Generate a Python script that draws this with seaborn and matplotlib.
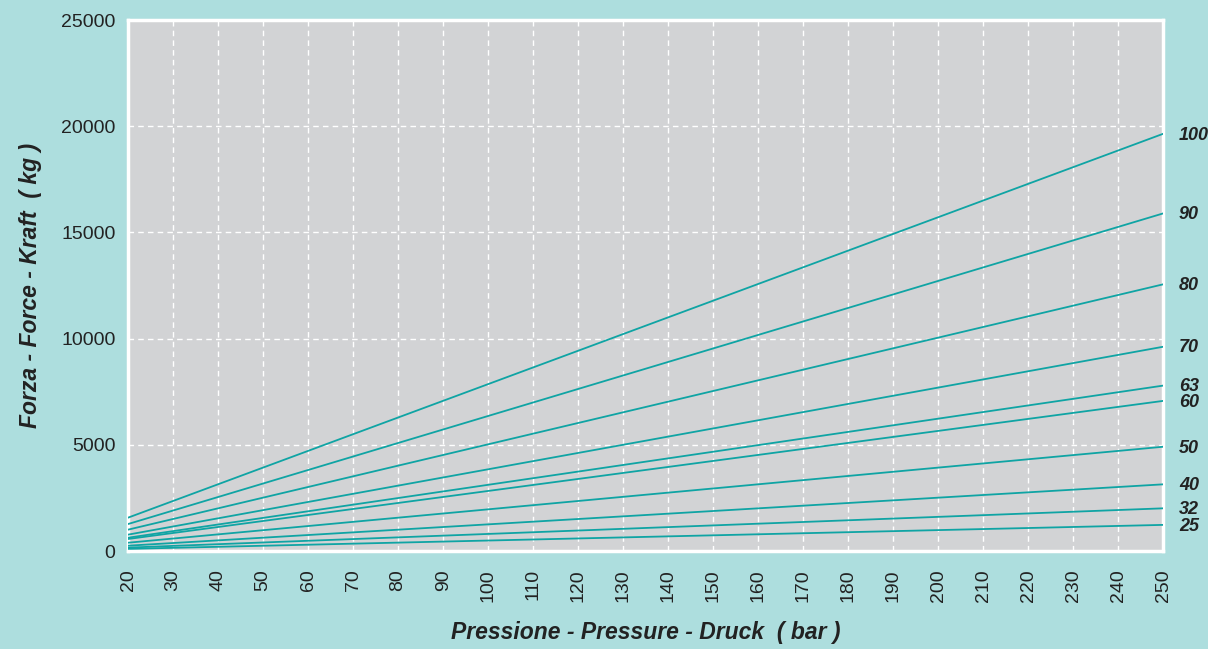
import matplotlib
matplotlib.use("Agg")
import matplotlib.pyplot as plt
import seaborn as sns
import numpy as np
import pandas as pd

BG = "#addede"
CARD = "#d2d3d5"
LINE = "#0fa4a4"
TXT = "#222222"

# cylinder bore sizes (mm) and force read at 20 bar and 250 bar (kg)
bores = [100, 90, 80, 70, 63, 60, 50, 40, 32, 25]
force_20 = [1570, 1270, 1005, 770, 625, 565, 390, 250, 160, 100]
force_250 = [19650, 15900, 12560, 9620, 7790, 7070, 4910, 3140, 2010, 1230]
pressures = [20, 250]

rows = []
for b, f0, f1 in zip(bores, force_20, force_250):
    rows.append({"bore": b, "p": pressures[0], "f": f0})
    rows.append({"bore": b, "p": pressures[1], "f": f1})
df = pd.DataFrame(rows)

sns.set_theme(style="white")
plt.rcParams["font.family"] = ["Liberation Sans", "DejaVu Sans"]

fig = plt.figure(figsize=(12.08, 6.49), dpi=100)
fig.patch.set_facecolor(BG)
ax = fig.add_axes([0.106, 0.151, 0.857, 0.818])
ax.set_facecolor(CARD)

sns.lineplot(data=df, x="p", y="f", units="bore", estimator=None,
             color=LINE, linewidth=1.3, ax=ax, zorder=3)

ax.set_xlim(20, 250)
ax.set_ylim(0, 25000)
ax.set_xticks(np.arange(20, 251, 10))
ax.set_yticks(np.arange(0, 25001, 5000))
ax.tick_params(axis="x", labelrotation=90, labelsize=14, colors=TXT, length=0, pad=13)
ax.tick_params(axis="y", labelsize=14, colors=TXT, length=5, width=1.5, pad=4)
for t in ax.get_yticklines():
    t.set_color("white")
ax.grid(True, color="white", linestyle=(0, (4, 3)), linewidth=1.0)
ax.set_axisbelow(True)
for s in ax.spines.values():
    s.set_color("white")
    s.set_linewidth(2.5)

for b, f1 in zip(bores, force_250):
    ax.text(1.015, f1 - 60, str(b), transform=ax.get_yaxis_transform(),
            ha="left", va="center", fontsize=13, fontweight="bold",
            fontstyle="italic", color=TXT)

ax.set_xlabel("Pressione - Pressure - Druck  ( bar )", fontsize=16.5,
              fontweight="bold", fontstyle="italic", color=TXT, labelpad=14)
ax.set_ylabel("Forza - Force - Kraft  ( kg )", fontsize=16.5,
              fontweight="bold", fontstyle="italic", color=TXT, labelpad=14)

fig.savefig("out.png", dpi=100, facecolor=BG)
